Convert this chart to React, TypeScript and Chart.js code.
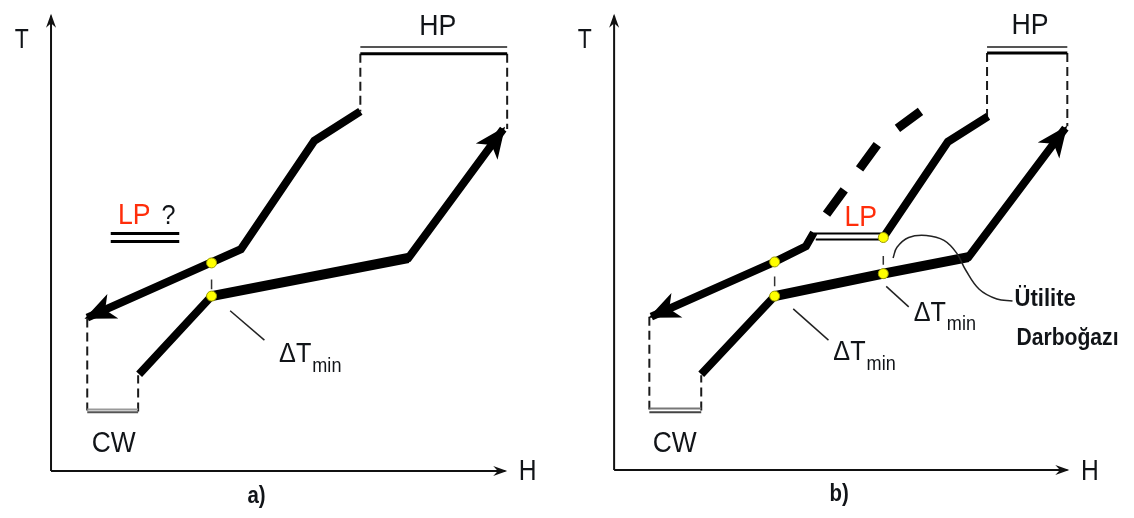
import React, { useEffect, useRef } from "react";
import { Chart, registerables } from "chart.js";

Chart.register(...registerables);

// ---------------- Panel a) data (H, T) ----------------
const aAxisT = [[0, 0], [0, 466]];
const aAxisH = [[0, 0], [464, 0]];
const aHotComposite = [[316, 368], [269, 338], [194, 227], [37, 157]];
const aColdComposite = [[90, 99], [164, 179], [365, 218], [462, 350]];
const aColdPinchSegment = [[164, 179], [365, 218]];
const aPinchPoints = [[164, 213], [164, 179]];
const aDeltaGap = [[164, 196], [164, 186]];
const aDeltaLeader = [[183, 164], [218, 134]];
const aCWLeft = [[37, 156], [37, 62]];
const aCWRight = [[89, 61], [89, 98]];
const aCWUpper = [[37, 63], [89, 63]];
const aCWLower = [[37, 60], [89, 60]];
const aHPUpper = [[316, 434], [466, 434]];
const aHPLower = [[316, 427], [466, 427]];
const aHPLeft = [[316, 427], [316, 368]];
const aHPRight = [[466, 427], [466, 350]];
const aLPUpper = [[61, 243], [131, 243]];
const aLPLower = [[61, 235], [131, 235]];

// ---------------- Panel b) data (H, T) ----------------
const bAxisT = [[0, 0], [0, 465]];
const bAxisH = [[0, 0], [463, 0]];
const bHotUpper = [[382, 362], [341, 336], [275, 238]];
const bHotLower = [[204, 243], [196, 229], [164, 213], [38, 157]];
const bLPUpper = [[204, 242], [275, 242]];
const bLPLower = [[206, 236], [275, 236]];
const bColdComposite = [[89, 98], [164, 178], [275, 201], [362, 218], [461, 350]];
const bColdPinchSegment = [[164, 178], [275, 201], [362, 218]];
const bShiftedHot = [[217, 262], [271, 336], [313, 367]];
const bPinchPoints = [[164, 213], [164, 178], [275, 238], [275, 201]];
const bDeltaGap1 = [[164, 198], [164, 188]];
const bDeltaGap2 = [[275, 219], [275, 210]];
const bDeltaLeader1 = [[183, 165], [219, 133]];
const bDeltaLeader2 = [[278, 188], [301, 167]];
const bUtilityLoop = [[407, 173], [391, 175], [373, 185], [359, 205], [350, 222], [337, 235], [319, 240], [301, 238], [289, 228], [285, 217]];
const bCWLeft = [[36, 157], [36, 62]];
const bCWRight = [[89, 61], [89, 97]];
const bCWUpper = [[36, 63], [89, 63]];
const bCWLower = [[36, 59], [89, 59]];
const bHPUpper = [[381, 433], [463, 433]];
const bHPLower = [[381, 427], [463, 427]];
const bHPLeft = [[381, 427], [381, 362]];
const bHPRight = [[463, 427], [463, 352]];

// ---------------- Texts ----------------
const aTexts = ["T", "H", "a)", "HP", "CW", "LP", "?"];
const bTexts = ["T", "H", "b)", "HP", "CW", "LP", "Ütilite", "Darboğazı"];
const deltaText = ["ΔT", "min"];

const MAIN_FONT = "'Liberation Sans', Arial, sans-serif";
const RED = "#ff2d0a";
const INK = "#111418";

type Label = { text: string; h: number; t: number; size: number; bold?: boolean; color?: string; align?: CanvasTextAlign; sx?: number };

const aLabels: Label[] = [
  { text: aTexts[0], h: -30, t: 441, size: 27, sx: 0.85 },
  { text: aTexts[1], h: 487, t: -1, size: 29, sx: 0.85 },
  { text: aTexts[2], h: 210, t: -26, size: 24, bold: true, sx: 0.85 },
  { text: aTexts[3], h: 395, t: 455, size: 29, sx: 0.92 },
  { text: aTexts[4], h: 64, t: 28, size: 30, sx: 0.88 },
  { text: aTexts[5], h: 85, t: 261, size: 29, color: RED, sx: 0.92 },
  { text: aTexts[6], h: 120, t: 261, size: 28, sx: 0.9 },
];
const aDeltas = [{ h: 233, t: 119 }];

const bLabels: Label[] = [
  { text: bTexts[0], h: -30, t: 440, size: 27, sx: 0.85 },
  { text: bTexts[1], h: 486, t: -2, size: 29, sx: 0.85 },
  { text: bTexts[2], h: 230, t: -25, size: 24, bold: true, sx: 0.85 },
  { text: bTexts[3], h: 425, t: 455, size: 29, sx: 0.92 },
  { text: bTexts[4], h: 62, t: 27, size: 30, sx: 0.88 },
  { text: bTexts[5], h: 252, t: 258, size: 29, color: RED, sx: 0.92 },
  { text: bTexts[6], h: 409, t: 175, size: 24, bold: true, align: "left", sx: 0.92 },
  { text: bTexts[7], h: 411, t: 135, size: 24, bold: true, align: "left", sx: 0.88 },
];
const bDeltas = [{ h: 224, t: 120 }, { h: 306, t: 160 }];

const pts = (arr: number[][]) => arr.map(([x, y]) => ({ x, y }));

const line = (data: number[][], opts: any = {}) => ({
  data: pts(data),
  showLine: true,
  pointRadius: 0,
  borderColor: "#000",
  borderWidth: 2,
  fill: false,
  tension: 0,
  borderCapStyle: "butt",
  borderJoinStyle: "miter",
  ...opts,
});

const dots = (data: number[][]) => ({
  data: pts(data),
  showLine: false,
  pointRadius: 5,
  pointBackgroundColor: "#ffff00",
  pointBorderColor: "#9a9a00",
  pointBorderWidth: 1,
});

const dashThin = { borderDash: [9, 5], borderWidth: 2, borderColor: "#1a1a1a" };
const bigArrow = { len: 29, width: 27, ext: 3 };
const axisArrow = { len: 12, width: 10, ext: 2 };

function makePlugin(labels: Label[], deltas: { h: number; t: number }[]) {
  return {
    id: "annotations",
    afterDatasetsDraw(chart: any) {
      const { ctx } = chart;
      const xs = chart.scales.x;
      const ys = chart.scales.y;
      // arrow heads
      chart.data.datasets.forEach((ds: any, i: number) => {
        if (!ds.arrow) return;
        const meta = chart.getDatasetMeta(i);
        const n = meta.data.length;
        const p1 = meta.data[n - 2];
        const p2 = meta.data[n - 1];
        const dx = p2.x - p1.x;
        const dy = p2.y - p1.y;
        const L = Math.hypot(dx, dy);
        const ux = dx / L;
        const uy = dy / L;
        const { len, width, ext } = ds.arrow;
        const tx = p2.x + ux * ext;
        const ty = p2.y + uy * ext;
        const bx = tx - ux * len;
        const by = ty - uy * len;
        const nx = -uy;
        const ny = ux;
        ctx.save();
        ctx.fillStyle = ds.borderColor || "#000";
        ctx.beginPath();
        ctx.moveTo(tx, ty);
        ctx.lineTo(bx + (nx * width) / 2 - ux * 2, by + (ny * width) / 2 - uy * 2);
        ctx.lineTo(bx + ux * len * 0.22, by + uy * len * 0.22);
        ctx.lineTo(bx - (nx * width) / 2 - ux * 2, by - (ny * width) / 2 - uy * 2);
        ctx.closePath();
        ctx.fill();
        ctx.restore();
      });
      // labels
      labels.forEach((lb) => {
        const px = xs.getPixelForValue(lb.h);
        const py = ys.getPixelForValue(lb.t);
        ctx.save();
        ctx.translate(px, py);
        ctx.scale(lb.sx ?? 1, 1);
        ctx.font = `${lb.bold ? "bold " : ""}${lb.size}px ${MAIN_FONT}`;
        ctx.fillStyle = lb.color || INK;
        ctx.textAlign = lb.align || "center";
        ctx.textBaseline = "middle";
        ctx.fillText(lb.text, 0, 0);
        ctx.restore();
      });
      // ΔT_min labels
      deltas.forEach((d) => {
        const px = xs.getPixelForValue(d.h);
        const py = ys.getPixelForValue(d.t);
        const sx = 0.9;
        ctx.save();
        ctx.fillStyle = INK;
        ctx.textBaseline = "middle";
        ctx.textAlign = "left";
        ctx.font = `28px ${MAIN_FONT}`;
        const w = ctx.measureText(deltaText[0]).width * sx;
        ctx.save();
        ctx.translate(px, py);
        ctx.scale(sx, 1);
        ctx.fillText(deltaText[0], 0, 0);
        ctx.restore();
        ctx.translate(px + w + 1, py + 11);
        ctx.scale(0.86, 1);
        ctx.font = `21px ${MAIN_FONT}`;
        ctx.fillText(deltaText[1], 0, 0);
        ctx.restore();
      });
    },
  };
}

function baseOptions(xMin: number, xMax: number, yMin: number, yMax: number) {
  return {
    responsive: false,
    animation: false as const,
    events: [] as any[],
    layout: { padding: 0 },
    plugins: { legend: { display: false }, tooltip: { enabled: false } },
    scales: {
      x: { type: "linear" as const, display: false, min: xMin, max: xMax },
      y: { type: "linear" as const, display: false, min: yMin, max: yMax },
    },
  };
}

function configA(): any {
  return {
    type: "scatter",
    data: {
      datasets: [
        dots(aPinchPoints),
        line(aDeltaGap, { borderWidth: 1.5, borderColor: "#333" }),
        line(aDeltaLeader, { borderWidth: 1.5, borderColor: "#222" }),
        line(aColdPinchSegment, { borderWidth: 10 }),
        line(aColdComposite, { borderWidth: 8, arrow: bigArrow }),
        line(aHotComposite, { borderWidth: 8, arrow: bigArrow }),
        line(aLPUpper, { borderWidth: 3 }),
        line(aLPLower, { borderWidth: 3 }),
        line(aHPUpper, { borderWidth: 2, borderColor: "#555" }),
        line(aHPLower, { borderWidth: 3 }),
        line(aHPLeft, dashThin),
        line(aHPRight, dashThin),
        line(aCWUpper, { borderWidth: 2, borderColor: "#999" }),
        line(aCWLower, { borderWidth: 2, borderColor: "#555" }),
        line(aCWLeft, dashThin),
        line(aCWRight, dashThin),
        line(aAxisT, { borderWidth: 2, borderColor: "#111", arrow: axisArrow }),
        line(aAxisH, { borderWidth: 2, borderColor: "#111", arrow: axisArrow }),
      ],
    },
    options: baseOptions(-46, 521, -42, 476),
    plugins: [makePlugin(aLabels, aDeltas)],
  };
}

function configB(): any {
  return {
    type: "scatter",
    data: {
      datasets: [
        dots(bPinchPoints),
        line(bDeltaGap1, { borderWidth: 1.5, borderColor: "#333" }),
        line(bDeltaGap2, { borderWidth: 1.5, borderColor: "#333" }),
        line(bDeltaLeader1, { borderWidth: 1.5, borderColor: "#222" }),
        line(bDeltaLeader2, { borderWidth: 1.5, borderColor: "#222" }),
        line(bUtilityLoop, { borderWidth: 1.5, borderColor: "#222", tension: 0.4 }),
        line(bColdPinchSegment, { borderWidth: 10 }),
        line(bColdComposite, { borderWidth: 8, arrow: bigArrow }),
        line(bHotUpper, { borderWidth: 8 }),
        line(bHotLower, { borderWidth: 8, arrow: bigArrow }),
        line(bShiftedHot, { borderWidth: 9, borderDash: [30, 26] }),
        line(bLPUpper, { borderWidth: 2 }),
        line(bLPLower, { borderWidth: 2 }),
        line(bHPUpper, { borderWidth: 2, borderColor: "#555" }),
        line(bHPLower, { borderWidth: 3 }),
        line(bHPLeft, dashThin),
        line(bHPRight, dashThin),
        line(bCWUpper, { borderWidth: 2, borderColor: "#777" }),
        line(bCWLower, { borderWidth: 2, borderColor: "#444" }),
        line(bCWLeft, dashThin),
        line(bCWRight, dashThin),
        line(bAxisT, { borderWidth: 2, borderColor: "#111", arrow: axisArrow }),
        line(bAxisH, { borderWidth: 2, borderColor: "#111", arrow: axisArrow }),
      ],
    },
    options: baseOptions(-42, 525, -43, 475),
    plugins: [makePlugin(bLabels, bDeltas)],
  };
}

function Panel({ make }: { make: () => any }) {
  const ref = useRef<HTMLCanvasElement>(null);
  useEffect(() => {
    const chart = new Chart(ref.current as HTMLCanvasElement, make());
    return () => chart.destroy();
  }, [make]);
  return <canvas ref={ref} width={567} height={518} style={{ display: "block", width: 567, height: 518 }} />;
}

export default function App() {
  return (
    <div style={{ position: "absolute", left: 0, top: 0, width: 1134, height: 518, display: "flex", background: "#fff" }}>
      <Panel make={configA} />
      <Panel make={configB} />
    </div>
  );
}
